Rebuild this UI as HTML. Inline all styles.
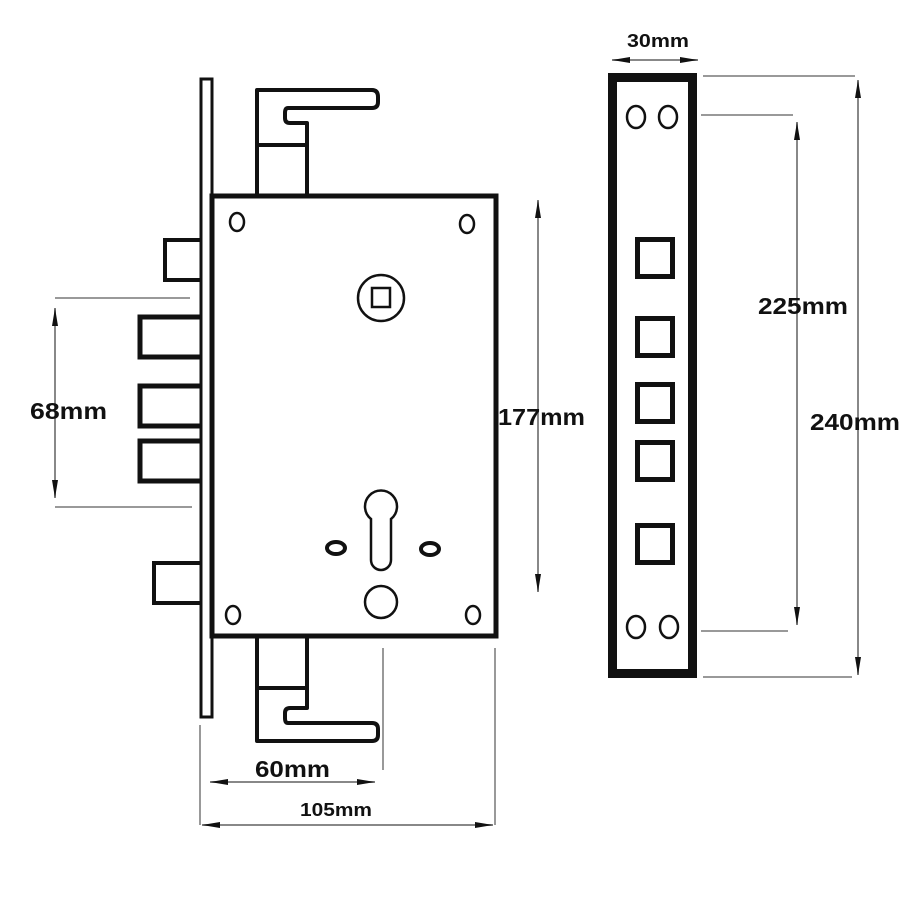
<!DOCTYPE html>
<html><head><style>html,body{margin:0;padding:0;background:#fff}svg{display:block}text{font-family:"Liberation Sans",sans-serif;font-weight:bold;fill:#111}</style></head>
<body>
<svg width="900" height="900" viewBox="0 0 900 900" xmlns="http://www.w3.org/2000/svg">
<defs>
<marker id="b" viewBox="0 0 30 10" refX="30" refY="5" markerWidth="20" markerHeight="6" orient="auto-start-reverse" markerUnits="userSpaceOnUse"><path d="M0,0 L30,5 L0,10 z" fill="#111"/></marker>
</defs>
<g fill="none" stroke="#999" stroke-width="2">
<line x1="55" y1="298" x2="190" y2="298"/><line x1="220" y1="298" x2="350" y2="298"/>
<line x1="55" y1="507" x2="192" y2="507"/><line x1="227" y1="507" x2="350" y2="507"/>
<line x1="381" y1="320" x2="381" y2="560" stroke-dasharray="8,3,2,3"/>
<line x1="200" y1="725" x2="200" y2="825"/><line x1="495" y1="648" x2="495" y2="825"/><line x1="383" y1="648" x2="383" y2="770"/>
<line x1="703" y1="76" x2="855" y2="76"/><line x1="701" y1="115" x2="793" y2="115"/>
<line x1="701" y1="631" x2="788" y2="631"/><line x1="703" y1="677" x2="852" y2="677"/>
</g>
<g stroke="#888" stroke-width="2" fill="none">
<line x1="55" y1="308" x2="55" y2="498" marker-start="url(#b)" marker-end="url(#b)"/>
<line x1="538" y1="200" x2="538" y2="592" marker-start="url(#b)" marker-end="url(#b)"/>
<line x1="210" y1="782" x2="375" y2="782" marker-start="url(#b)" marker-end="url(#b)"/>
<line x1="202" y1="825" x2="493" y2="825" marker-start="url(#b)" marker-end="url(#b)"/>
<line x1="612" y1="60" x2="698" y2="60" marker-start="url(#b)" marker-end="url(#b)"/>
<line x1="797" y1="122" x2="797" y2="625" marker-start="url(#b)" marker-end="url(#b)"/>
<line x1="858" y1="80" x2="858" y2="675" marker-start="url(#b)" marker-end="url(#b)"/>
</g>
<g fill="#fff" stroke="#111" stroke-width="4">
<rect x="165" y="240" width="37" height="40"/>
<rect x="140" y="317" width="62" height="40" stroke-width="5"/>
<rect x="140" y="386" width="62" height="40" stroke-width="5"/>
<rect x="140" y="441" width="62" height="40" stroke-width="5"/>
<rect x="154" y="563" width="48" height="40"/>
<path d="M257,195 V90 H372 Q378,90 378,97 V102 Q378,108 372,108 H288 Q285,108 285,113 V118 Q285,123 290,123 H307 V195" stroke-linejoin="round"/>
<line x1="257" y1="145" x2="307" y2="145"/>
<path d="M257,637 V741 H372 Q378,741 378,735 V729 Q378,723 372,723 H288 Q285,723 285,718 V713 Q285,708 290,708 H307 V637" stroke-linejoin="round"/>
<line x1="257" y1="688" x2="307" y2="688"/>
<rect x="201" y="79" width="11" height="638" stroke-width="3"/>
<rect x="212" y="196" width="284" height="440" stroke-width="5"/>
</g>
<g fill="none" stroke="#111" stroke-width="2.5">
<ellipse cx="237" cy="222" rx="7" ry="9"/><ellipse cx="467" cy="224" rx="7" ry="9"/>
<ellipse cx="233" cy="615" rx="7" ry="9"/><ellipse cx="473" cy="615" rx="7" ry="9"/>
<circle cx="381" cy="298" r="23"/><rect x="372" y="288" width="18" height="19"/>
<path d="M371,519 A16,16 0 1 1 391,519 V560 A10,10 0 0 1 371,560 Z"/>
<ellipse cx="336" cy="548" rx="9" ry="6" stroke-width="4"/><ellipse cx="430" cy="549" rx="9" ry="6" stroke-width="4"/>
<circle cx="381" cy="602" r="16"/>
</g>
<g stroke="#111" fill="none">
<rect x="612.5" y="77.5" width="80" height="596" stroke-width="9"/>
<g stroke-width="2.5"><ellipse cx="636" cy="117" rx="9" ry="11"/><ellipse cx="668" cy="117" rx="9" ry="11"/>
<ellipse cx="636" cy="627" rx="9" ry="11"/><ellipse cx="669" cy="627" rx="9" ry="11"/></g>
<g stroke-width="5"><rect x="637.5" y="239.5" width="35" height="37"/><rect x="637.5" y="318.5" width="35" height="37"/>
<rect x="637.5" y="384.5" width="35" height="37"/><rect x="637.5" y="442.5" width="35" height="37"/><rect x="637.5" y="525.5" width="35" height="37"/></g>
</g>
<text x="30" y="419" font-size="23" textLength="77" lengthAdjust="spacingAndGlyphs">68mm</text>
<text x="498" y="425" font-size="23" textLength="87" lengthAdjust="spacingAndGlyphs">177mm</text>
<text x="255" y="777" font-size="23" textLength="75" lengthAdjust="spacingAndGlyphs">60mm</text>
<text x="300" y="816" font-size="18" textLength="72" lengthAdjust="spacingAndGlyphs">105mm</text>
<text x="627" y="47" font-size="18" textLength="62" lengthAdjust="spacingAndGlyphs">30mm</text>
<text x="758" y="314" font-size="23" textLength="90" lengthAdjust="spacingAndGlyphs">225mm</text>
<text x="810" y="430" font-size="23" textLength="90" lengthAdjust="spacingAndGlyphs">240mm</text>
</svg>
</body></html>
